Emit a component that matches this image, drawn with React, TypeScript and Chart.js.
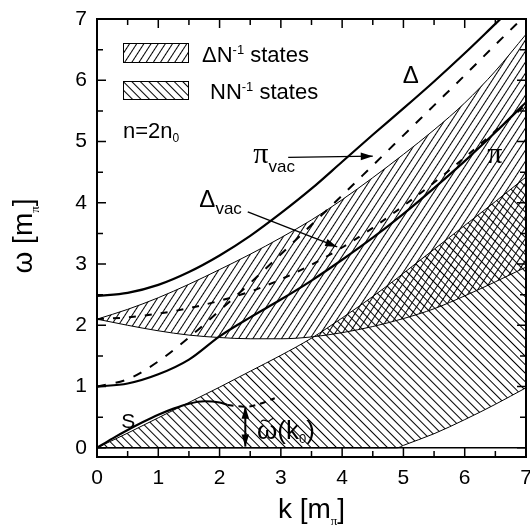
import React, { useEffect, useRef } from 'react';
import Chart from 'chart.js/auto';

const SANS = "'Liberation Sans', Arial, Helvetica, sans-serif";
const SERIF = "'Liberation Serif', 'Times New Roman', serif";

// momentum grid k [m_pi]
const K = [0, 0.5, 1, 1.5, 2, 2.5, 3, 3.5, 4, 4.5, 5, 5.5, 6, 6.5, 7];
// Delta N^-1 continuum boundaries
const DN_UPPER = [2.1, 2.26, 2.45, 2.67, 2.91, 3.16, 3.43, 3.72, 4.05, 4.41, 4.79, 5.19, 5.63, 6.15, 6.75];
const DN_LOWER = [2.1, 2.0, 1.91, 1.84, 1.8, 1.78, 1.78, 1.81, 1.88, 1.98, 2.11, 2.27, 2.48, 2.71, 2.95];
// N N^-1 continuum boundaries
const K_NN = [0, 0.5, 1, 1.5, 2, 2.5, 3, 3.5, 4, 4.5, 4.9, 5, 5.5, 6, 6.5, 7];
const NN_UPPER = [0, 0.24, 0.49, 0.74, 0.99, 1.25, 1.51, 1.79, 2.12, 2.47, 2.77, 2.85, 3.24, 3.63, 4.02, 4.42];
const NN_LOWER = [0, 0, 0, 0, 0, 0, 0, 0, 0, 0, 0, 0.04, 0.23, 0.46, 0.71, 0.98];
const K_ZERO = [0, 7];
const ZERO = [0, 0];
// branches
const DELTA = [2.48, 2.53, 2.66, 2.87, 3.14, 3.46, 3.83, 4.23, 4.67, 5.11, 5.54, 5.98, 6.44, 6.92, 7.4];
const PI = [1.0, 1.05, 1.2, 1.44, 1.82, 2.13, 2.42, 2.73, 3.07, 3.43, 3.82, 4.24, 4.68, 5.15, 5.64];
const PI_VAC = [1.0, 1.12, 1.41, 1.8, 2.24, 2.69, 3.16, 3.64, 4.12, 4.61, 5.1, 5.59, 6.08, 6.58, 7.07];
const DELTA_VAC = [2.1, 2.13, 2.19, 2.28, 2.4, 2.55, 2.75, 2.99, 3.27, 3.59, 3.95, 4.33, 4.74, 5.17, 5.6];
const K_S = [0, 0.25, 0.5, 0.75, 1, 1.25, 1.5, 1.75, 2, 2.13];
const S_SOLID = [0, 0.15, 0.29, 0.42, 0.54, 0.64, 0.72, 0.76, 0.74, 0.7];
const K_S_DASH = [2.13, 2.42, 2.6, 2.9];
const S_DASH = [0.7, 0.67, 0.7, 0.81];

const X_TICKS = [0, 1, 2, 3, 4, 5, 6, 7];
const Y_TICKS = [0, 1, 2, 3, 4, 5, 6, 7];

// annotation anchors in data units (k, omega)
const LABEL_DELTA = [5.12, 5.95];
const LABEL_PI = [6.49, 4.65];
const LABEL_S = [0.51, 0.33];
const LABEL_PI_VAC = [2.55, 4.65];
const LABEL_DELTA_VAC = [1.67, 3.93];
const LABEL_OMEGA = [2.61, 0.15];
const ARROW_PI_VAC = [[3.12, 4.74], [4.5, 4.76]];
const ARROW_DELTA_VAC = [[2.46, 3.85], [3.92, 3.28]];
const ARROW_OMEGA = [[2.42, 0.67], [2.42, 0.02]];

const xy = (xs: number[], ys: number[]) => xs.map((x, i) => ({ x, y: ys[i] }));

function makeHatch(spacing: number, angle: number): CanvasPattern | string {
  const c = document.createElement('canvas');
  c.width = 16;
  c.height = spacing;
  const g = c.getContext('2d')!;
  g.fillStyle = '#000';
  g.fillRect(0, 0, 16, 1);
  const p = g.createPattern(c, 'repeat');
  if (!p) return '#888';
  p.setTransform(new DOMMatrix().rotateSelf(angle));
  return p;
}

type Part = { t: string; font: string; dy: number };
function rich(ctx: CanvasRenderingContext2D, parts: Part[], x: number, y: number, align: 'left' | 'center') {
  let w = 0;
  for (const p of parts) { ctx.font = p.font; w += ctx.measureText(p.t).width; }
  let cx = align === 'center' ? x - w / 2 : x;
  ctx.textBaseline = 'alphabetic';
  ctx.textAlign = 'left';
  for (const p of parts) {
    ctx.font = p.font;
    ctx.fillText(p.t, cx, y + p.dy);
    cx += ctx.measureText(p.t).width;
  }
}

function arrowHead(ctx: CanvasRenderingContext2D, x1: number, y1: number, x2: number, y2: number, len: number, hw: number) {
  const a = Math.atan2(y2 - y1, x2 - x1);
  const c = Math.cos(a), s = Math.sin(a);
  ctx.beginPath();
  ctx.moveTo(x2, y2);
  ctx.lineTo(x2 - len * c - hw * s, y2 - len * s + hw * c);
  ctx.lineTo(x2 - len * c + hw * s, y2 - len * s - hw * c);
  ctx.closePath();
  ctx.fill();
}

export default function App() {
  const ref = useRef<HTMLCanvasElement>(null);
  useEffect(() => {
    document.body.style.margin = '0';
    const canvas = ref.current!;
    const slash = makeHatch(6, -57);
    const back = makeHatch(6, 45);

    const overlay = {
      id: 'overlay',
      afterDraw(chart: any) {
        const ctx: CanvasRenderingContext2D = chart.ctx;
        const a = chart.chartArea;
        const xs = chart.scales.x, ys = chart.scales.y;
        const px = (v: number) => xs.getPixelForValue(v);
        const py = (v: number) => ys.getPixelForValue(v);
        ctx.save();
        ctx.strokeStyle = '#000';
        ctx.fillStyle = '#000';
        // frame
        ctx.lineWidth = 2;
        ctx.strokeRect(a.left, a.top, a.right - a.left, a.bottom - a.top);
        // inner ticks on all sides
        ctx.lineWidth = 1.5;
        ctx.beginPath();
        const MJ = 9, MN = 6;
        X_TICKS.forEach((v, i) => {
          const X = px(v);
          ctx.moveTo(X, a.bottom); ctx.lineTo(X, a.bottom - MJ);
          ctx.moveTo(X, a.top); ctx.lineTo(X, a.top + MJ);
          if (i < X_TICKS.length - 1) {
            const M = px((v + X_TICKS[i + 1]) / 2);
            ctx.moveTo(M, a.bottom); ctx.lineTo(M, a.bottom - MN);
            ctx.moveTo(M, a.top); ctx.lineTo(M, a.top + MN);
          }
        });
        Y_TICKS.forEach((v, i) => {
          const Y = py(v);
          ctx.moveTo(a.left, Y); ctx.lineTo(a.left + MJ, Y);
          ctx.moveTo(a.right, Y); ctx.lineTo(a.right - MJ, Y);
          if (i < Y_TICKS.length - 1) {
            const M = py((v + Y_TICKS[i + 1]) / 2);
            ctx.moveTo(a.left, M); ctx.lineTo(a.left + MN, M);
            ctx.moveTo(a.right, M); ctx.lineTo(a.right - MN, M);
          }
        });
        ctx.stroke();

        // legend
        const L = a.left, T = a.top;
        const boxes: [number, number, any][] = [[T + 24, 19, slash], [T + 62, 18, back]];
        ctx.lineWidth = 1;
        for (const [by, bh, pat] of boxes) {
          ctx.fillStyle = pat;
          ctx.fillRect(L + 26, by, 65, bh);
          ctx.strokeRect(L + 26.5, by + 0.5, 65, bh);
        }
        ctx.fillStyle = '#000';
        rich(ctx, [
          { t: 'ΔN', font: `22px ${SANS}`, dy: 0 },
          { t: '-1', font: `13px ${SANS}`, dy: -8 },
          { t: ' states', font: `22px ${SANS}`, dy: 0 },
        ], L + 105, T + 43, 'left');
        rich(ctx, [
          { t: 'NN', font: `22px ${SANS}`, dy: 0 },
          { t: '-1', font: `13px ${SANS}`, dy: -8 },
          { t: ' states', font: `22px ${SANS}`, dy: 0 },
        ], L + 113, T + 80, 'left');
        rich(ctx, [
          { t: 'n=2n', font: `22px ${SANS}`, dy: 0 },
          { t: '0', font: `12px ${SANS}`, dy: 4 },
        ], L + 26, T + 119, 'left');

        // curve labels
        rich(ctx, [{ t: 'Δ', font: `24px ${SANS}`, dy: 0 }], px(LABEL_DELTA[0]), py(LABEL_DELTA[1]), 'center');
        rich(ctx, [{ t: 'π', font: `30px ${SERIF}`, dy: 0 }], px(LABEL_PI[0]), py(LABEL_PI[1]), 'center');
        rich(ctx, [{ t: 'S', font: `21px ${SANS}`, dy: 0 }], px(LABEL_S[0]), py(LABEL_S[1]), 'center');
        rich(ctx, [
          { t: 'π', font: `30px ${SERIF}`, dy: 0 },
          { t: 'vac', font: `17px ${SANS}`, dy: 9.5 },
        ], px(LABEL_PI_VAC[0]), py(LABEL_PI_VAC[1]), 'left');
        rich(ctx, [
          { t: 'Δ', font: `24px ${SANS}`, dy: 0 },
          { t: 'vac', font: `17px ${SANS}`, dy: 6.5 },
        ], px(LABEL_DELTA_VAC[0]), py(LABEL_DELTA_VAC[1]), 'left');

        // omega tilde (k0)
        const ox = px(LABEL_OMEGA[0]), oy = py(LABEL_OMEGA[1]);
        ctx.font = `26px ${SANS}`;
        const ow = ctx.measureText('ω').width;
        rich(ctx, [
          { t: 'ω(k', font: `26px ${SANS}`, dy: 0 },
          { t: '0', font: `13px ${SANS}`, dy: 4 },
          { t: ')', font: `26px ${SANS}`, dy: 0 },
        ], ox, oy, 'left');
        ctx.lineWidth = 1.3;
        ctx.beginPath();
        const tx = ox + ow / 2, ty = oy - 18.5;
        ctx.moveTo(tx - 6, ty + 1.5);
        ctx.bezierCurveTo(tx - 3, ty - 3, tx, ty + 3, tx + 2, ty + 1);
        ctx.bezierCurveTo(tx + 4, ty - 1, tx + 5, ty - 2, tx + 6, ty - 1.5);
        ctx.stroke();

        // arrows
        const drawArrow = (pts: number[][], lw: number, both: boolean) => {
          const x1 = px(pts[0][0]), y1 = py(pts[0][1]);
          const x2 = px(pts[1][0]), y2 = py(pts[1][1]);
          ctx.lineWidth = lw;
          ctx.beginPath();
          ctx.moveTo(x1, y1);
          ctx.lineTo(x2, y2);
          ctx.stroke();
          arrowHead(ctx, x1, y1, x2, y2, 12, 3.8);
          if (both) arrowHead(ctx, x2, y2, x1, y1, 12, 3.8);
        };
        drawArrow(ARROW_PI_VAC, 1.3, false);
        drawArrow(ARROW_DELTA_VAC, 1.3, false);
        drawArrow(ARROW_OMEGA, 2, true);

        // axis titles
        rich(ctx, [
          { t: 'k [m', font: `28px ${SANS}`, dy: 0 },
          { t: 'π', font: `13px ${SERIF}`, dy: 7 },
          { t: ']', font: `28px ${SANS}`, dy: 0 },
        ], (a.left + a.right) / 2, a.bottom + 61, 'center');
        ctx.save();
        ctx.translate(0, (a.top + a.bottom) / 2 - 2);
        ctx.rotate(-Math.PI / 2);
        rich(ctx, [
          { t: 'ω [m', font: `28px ${SANS}`, dy: 0 },
          { t: 'π', font: `13px ${SERIF}`, dy: 7 },
          { t: ']', font: `28px ${SANS}`, dy: 0 },
        ], 0, 32, 'center');
        ctx.restore();
        ctx.restore();
      },
    };

    const thin = { borderColor: '#000', borderWidth: 1, pointRadius: 0, fill: false };
    const thick = { borderColor: '#000', borderWidth: 2.2, pointRadius: 0, fill: false };
    const tickFont = { family: SANS, size: 21 };

    const chart = new Chart(canvas, {
      type: 'line',
      data: {
        datasets: [
          { ...thin, data: xy(K, DN_UPPER), fill: '+1', backgroundColor: slash },
          { ...thin, data: xy(K, DN_LOWER) },
          { ...thin, data: xy(K_NN, NN_UPPER), fill: '+1', backgroundColor: back },
          { ...thin, data: xy(K_NN, NN_LOWER) },
          { ...thin, borderWidth: 1.4, data: xy(K_ZERO, ZERO) },
          { ...thick, data: xy(K, DELTA) },
          { ...thick, data: xy(K, PI) },
          { ...thick, data: xy(K_S, S_SOLID) },
          { ...thick, borderWidth: 2, borderDash: [6, 5], data: xy(K_S_DASH, S_DASH) },
          { ...thick, borderWidth: 2, borderDash: [9, 10], data: xy(K, PI_VAC) },
          { ...thick, borderWidth: 2, borderDash: [7, 9], data: xy(K, DELTA_VAC) },
        ] as any,
      },
      options: {
        animation: false,
        responsive: false,
        maintainAspectRatio: false,
        events: [],
        layout: { padding: { top: 19, right: 4, left: 0, bottom: 0 } },
        plugins: { legend: { display: false }, tooltip: { enabled: false } },
        elements: { point: { radius: 0 }, line: { cubicInterpolationMode: 'monotone', tension: 0.4 } },
        scales: {
          x: {
            type: 'linear', min: 0, max: 7,
            grid: { display: false, drawTicks: false },
            border: { display: false },
            ticks: { font: tickFont, color: '#000', padding: 9, maxRotation: 0 },
            afterBuildTicks: (s: any) => { s.ticks = X_TICKS.map((v) => ({ value: v })); },
            afterFit: (s: any) => { s.height = 70; s.paddingLeft = 0; s.paddingRight = 0; },
          },
          y: {
            type: 'linear', min: -0.15, max: 7,
            grid: { display: false, drawTicks: false },
            border: { display: false },
            ticks: { font: tickFont, color: '#000', padding: 10 },
            afterBuildTicks: (s: any) => { s.ticks = Y_TICKS.map((v) => ({ value: v })); },
            afterFit: (s: any) => { s.width = 97; s.paddingTop = 0; s.paddingBottom = 0; },
          },
        },
      } as any,
      plugins: [overlay],
    });
    return () => chart.destroy();
  }, []);
  return (
    <div style={{ width: 530, height: 527 }}>
      <canvas ref={ref} width={530} height={527} style={{ display: 'block' }} />
    </div>
  );
}
